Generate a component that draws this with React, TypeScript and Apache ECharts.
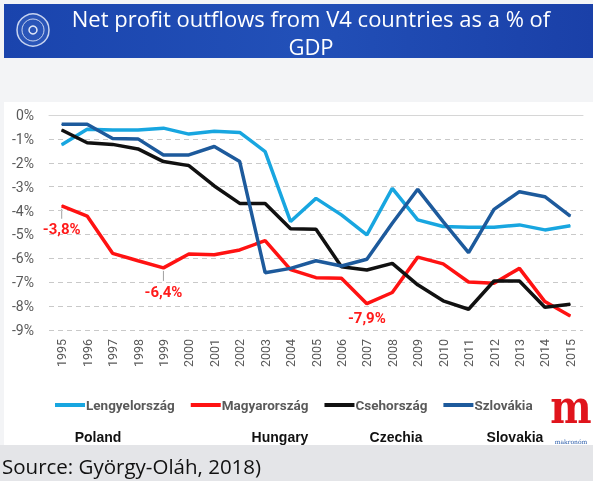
import React, { useEffect, useRef } from "react";
import * as echarts from "echarts";

const years = ["1995","1996","1997","1998","1999","2000","2001","2002","2003","2004","2005","2006","2007","2008","2009","2010","2011","2012","2013","2014","2015"];
const poland = [-1.25,-0.6,-0.63,-0.63,-0.55,-0.8,-0.68,-0.73,-1.53,-4.46,-3.49,-4.18,-5.02,-3.07,-4.39,-4.67,-4.7,-4.7,-4.6,-4.81,-4.64];
const hungary = [-3.8,-4.23,-5.79,-6.1,-6.4,-5.82,-5.85,-5.65,-5.26,-6.47,-6.81,-6.83,-7.9,-7.43,-5.95,-6.23,-6.99,-7.04,-6.42,-7.81,-8.41];
const czech = [-0.63,-1.16,-1.23,-1.42,-1.95,-2.12,-2.97,-3.7,-3.7,-4.76,-4.78,-6.35,-6.49,-6.21,-7.11,-7.78,-8.13,-6.95,-6.95,-8.05,-7.92];
const slovakia = [-0.39,-0.39,-0.98,-1.0,-1.67,-1.67,-1.32,-1.95,-6.6,-6.42,-6.1,-6.32,-6.04,-4.53,-3.11,-4.46,-5.76,-3.95,-3.21,-3.42,-4.23];
const seriesNames = ["Lengyelország", "Magyarország", "Csehország", "Szlovákia"];
const seriesColors = ["#18a6e0", "#ff1212", "#111111", "#1d5a9c"];
const englishNames = ["Poland", "Hungary", "Czechia", "Slovakia"];
const hungaryLabelled = [0, 4, 12];
const hungaryLabelOffsets = [10, 11, 1];
const leaderIdx = [0, 4];

export default function App() {
  const ref = useRef<HTMLDivElement>(null);
  useEffect(() => {
    if (!ref.current) return;
    const chart = echarts.init(ref.current, null, { renderer: "svg" });
    const fmt = (v: number) => v.toFixed(1).replace(".", ",") + "%";
    const hungaryData = hungary.map((v, i) => {
      const k = hungaryLabelled.indexOf(i);
      if (k < 0) return v;
      return {
        value: v,
        label: {
          show: true,
          position: "bottom",
          offset: [0, hungaryLabelOffsets[k]],
          formatter: fmt(v),
          color: "#ff1a1a",
          fontWeight: "bold",
          fontSize: 15,
          fontFamily: "Roboto",
        },
      };
    });
    const dataSets = [poland, hungaryData, czech, slovakia];
    const countryX = [98, 280, 396, 515];

    const baseGraphic: any[] = [
      { type: "rect", z: -20, shape: { x: 0, y: 0, width: 593, height: 481 }, style: { fill: "#f3f4f6" } },
      { type: "rect", z: -19, shape: { x: 4, y: 102, width: 589, height: 343 }, style: { fill: "#ffffff" } },
      { type: "rect", z: -19, shape: { x: 0, y: 445, width: 593, height: 36 }, style: { fill: "#e4e5e8" } },
      {
        type: "rect", z: -18, shape: { x: 4, y: 4, width: 589, height: 54 },
        style: { fill: new echarts.graphic.LinearGradient(0, 0, 1, 0, [
          { offset: 0, color: "#1a44ad" }, { offset: 0.5, color: "#2250b8" }, { offset: 1, color: "#1a40a8" },
        ]) },
      },
      { type: "circle", shape: { cx: 33, cy: 30, r: 16 }, style: { fill: "#2a55b8", stroke: "#c8d4f0", lineWidth: 1.5 } },
      { type: "circle", shape: { cx: 33, cy: 30, r: 11 }, style: { fill: "none", stroke: "#c8d4f0", lineWidth: 1 } },
      { type: "circle", shape: { cx: 33, cy: 30, r: 4 }, style: { fill: "none", stroke: "#dfe6f7", lineWidth: 1.5 } },
      { type: "text", x: 311, y: 18, style: { text: "Net profit outflows from V4 countries as a % of", fill: "#ffffff", fontSize: 22, fontFamily: "Open Sans", align: "center", verticalAlign: "middle" } },
      { type: "text", x: 311, y: 46, style: { text: "GDP", fill: "#ffffff", fontSize: 22, fontFamily: "Open Sans", align: "center", verticalAlign: "middle" } },
      ...englishNames.map((n, i) => ({
        type: "text", x: countryX[i], y: 437,
        style: { text: n, fill: "#111111", fontSize: 14, fontWeight: "bold", fontFamily: "Liberation Sans", align: "center", verticalAlign: "middle" },
      })),
      { type: "text", x: 571, y: 430, scaleX: 0.85, style: { text: "m", fill: "#e0141c", fontSize: 46, fontWeight: "bold", fontFamily: "DejaVu Serif", align: "center", verticalAlign: "bottom" } },
      { type: "text", x: 571, y: 441, style: { text: "makronóm", fill: "#2a5caa", fontSize: 6, fontFamily: "DejaVu Serif", align: "center", verticalAlign: "middle" } },
      { type: "text", x: 2, y: 466, style: { text: "Source: György-Oláh, 2018)", fill: "#111111", fontSize: 20.5, fontFamily: "Open Sans", align: "left", verticalAlign: "middle" } },
    ];

    const option: any = {
      animation: false,
      grid: { left: 49, right: 10, top: 115, bottom: 151, containLabel: false },
      legend: {
        data: seriesNames,
        left: 50,
        top: 393,
        itemGap: 16,
        itemWidth: 30,
        itemHeight: 4,
        icon: "rect",
        textStyle: { color: "#5a5a5a", fontSize: 13.5, fontWeight: "bold", fontFamily: "Roboto", padding: [0, 0, 0, -4] },
      },
      xAxis: [
        {
          type: "category",
          data: years,
          boundaryGap: true,
          axisLine: { show: false },
          axisTick: { show: false },
          axisLabel: { rotate: 90, color: "#595959", fontSize: 12.5, fontFamily: "Roboto", margin: 9 },
        },
        {
          type: "category",
          data: years,
          position: "top",
          axisLine: { show: true, lineStyle: { color: "#d6d6d6", width: 1 } },
          axisTick: { show: false },
          axisLabel: { show: false },
        },
      ],
      yAxis: {
        type: "value",
        min: -9,
        max: 0,
        interval: 1,
        axisLine: { show: false },
        axisTick: { show: false },
        axisLabel: { formatter: (v: number) => v + "%", color: "#595959", fontSize: 14, fontFamily: "Roboto", margin: 15 },
        splitLine: { lineStyle: { color: "#c9c9c9", type: [5, 4], width: 1 } },
      },
      series: seriesNames.map((n, i) => ({
        name: n,
        type: "line",
        data: dataSets[i],
        showSymbol: true,
        symbol: "circle",
        symbolSize: 1,
        color: seriesColors[i],
        lineStyle: { color: seriesColors[i], width: 3.5 },
        itemStyle: { color: seriesColors[i] },
        z: 2 + i,
      })),
      graphic: baseGraphic,
    };
    chart.setOption(option);

    const leaders = leaderIdx.map((idx) => {
      const p = chart.convertToPixel({ seriesIndex: 1 }, [idx, hungary[idx]]) as number[];
      return { type: "line", shape: { x1: p[0], y1: p[1] + 3, x2: p[0], y2: p[1] + 13 }, style: { stroke: "#a0a0a0", lineWidth: 1 } };
    });
    chart.setOption({ graphic: [...baseGraphic, ...leaders] });

    return () => chart.dispose();
  }, []);
  return <div ref={ref} style={{ position: "fixed", left: 0, top: 0, width: 593, height: 481 }} />;
}
